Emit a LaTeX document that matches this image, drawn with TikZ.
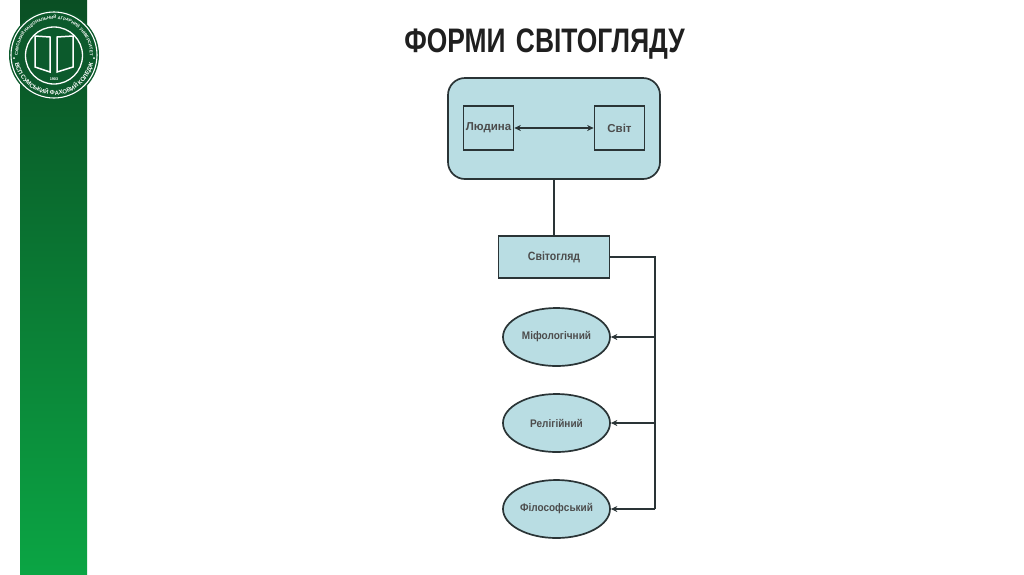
\documentclass[tikz,border=0pt]{standalone}
\usepackage{fontspec}
\usepackage{graphicx}
\setmainfont{Liberation Sans}
\usetikzlibrary{shapes.geometric,arrows.meta,decorations.text}
\definecolor{boxfill}{HTML}{B9DDE3}
\definecolor{boxline}{HTML}{2A3436}
\definecolor{bartop}{HTML}{0A4F24}
\definecolor{barbot}{HTML}{0BA544}
\definecolor{logogreen}{HTML}{0C5A2C}
\tikzset{
  x=1pt,y=-1pt,
  panel/.style={draw=boxline,line width=1.7pt,fill=boxfill,rounded corners=17pt,minimum width=212pt,minimum height=101pt,inner sep=0pt},
  inbox/.style={draw=boxline,line width=1.7pt,minimum width=50pt,minimum height=44pt,inner sep=0pt,font=\bfseries\fontsize{11.5}{14}\selectfont,text=black!70},
  mainbox/.style={draw=boxline,line width=1.7pt,fill=boxfill,minimum width=111pt,minimum height=42pt,inner sep=0pt,font=\bfseries\fontsize{12}{14}\selectfont,text=black!70},
  formell/.style={ellipse,draw=boxline,line width=1.7pt,fill=boxfill,minimum width=107pt,minimum height=58pt,inner sep=0pt,font=\bfseries\fontsize{11}{14}\selectfont,text=black!70},
  conn/.style={draw=boxline,line width=1.7pt},
  arr/.style={conn,-{Stealth[length=6.5pt,width=6pt]}},
  darr/.style={conn,{Stealth[length=6.5pt,width=6pt]}-{Stealth[length=6.5pt,width=6pt]}},
  titletext/.style={font=\bfseries\fontsize{34}{38}\selectfont,text=black!88}
}
\begin{document}
\begin{tikzpicture}
\useasboundingbox (0,0) rectangle (1024,574);
\fill[white] (0,0) rectangle (1024,574);
\shade[top color=bartop,bottom color=barbot] (20,0) rectangle (87,574);
% logo
\fill[logogreen] (54,55) circle[radius=45];
\draw[white,line width=1.1pt] (54,55) circle[radius=43];
\draw[white,line width=1.3pt] (54,55.5) circle[radius=28.5];
\path[decorate,decoration={text along path,text align=center,text={|\bfseries\fontsize{4.2}{5}\selectfont\color{white}|СУМСЬКИЙ НАЦІОНАЛЬНИЙ АГРАРНИЙ УНІВЕРСИТЕТ}}]
  (18,55) arc[start angle=-180,end angle=0,radius=36];
\path[decorate,decoration={text along path,text align=center,text={|\bfseries\fontsize{6}{7}\selectfont\color{white}|ВСП СУМСЬКИЙ ФАХОВИЙ КОЛЕДЖ}}]
  (14.2,59.2) arc[start angle=-186,end angle=-354,radius=40];
\fill[white] (14,58) circle[radius=1] (94,58) circle[radius=1];
\draw[white,line width=1.5pt,line join=miter] (35,36) -- (50,37) -- (50,72) -- (35,67) -- cycle;
\draw[white,line width=1.5pt,line join=miter] (57,37) -- (73,36) -- (73,67) -- (57,72) -- cycle;
\node[white,font=\bfseries\fontsize{3.8}{5}\selectfont,inner sep=0pt] (year) at (54,79) {1903};
% title
\node[titletext,inner sep=0pt,anchor=base] (title) at (544.5,52.5) {\scalebox{0.776}[1]{ФОРМИ\hspace{4pt} СВІТОГЛЯДУ}};
% diagram
\node[panel] (top) at (554,128.5) {};
\node[inbox] (lud) at (488.5,128) {Людина};
\node[inbox] (svit) at (619.5,128) {Світ};
\node[mainbox] (sv) at (554,257) {\scalebox{0.88}[1]{Світогляд}};
\node[formell] (mif) at (556.5,337) {\scalebox{0.91}[1]{Міфологічний}};
\node[formell] (rel) at (556.5,423) {\scalebox{0.91}[1]{Релігійний}};
\node[formell] (fil) at (556.5,509) {\scalebox{0.91}[1]{Філософський}};
\coordinate (bus1) at (655,257);
\coordinate (bus2) at (655,337);
\coordinate (bus3) at (655,423);
\coordinate (bus4) at (655,509);
\draw[darr] (lud) -- (svit);
\draw[conn] (top) -- (sv);
\draw[conn] (sv.east) -- (bus1) -- (bus4);
\draw[arr] (bus2) -- (mif.east);
\draw[arr] (bus3) -- (rel.east);
\draw[arr] (bus4) -- (fil.east);
\end{tikzpicture}
\end{document}
